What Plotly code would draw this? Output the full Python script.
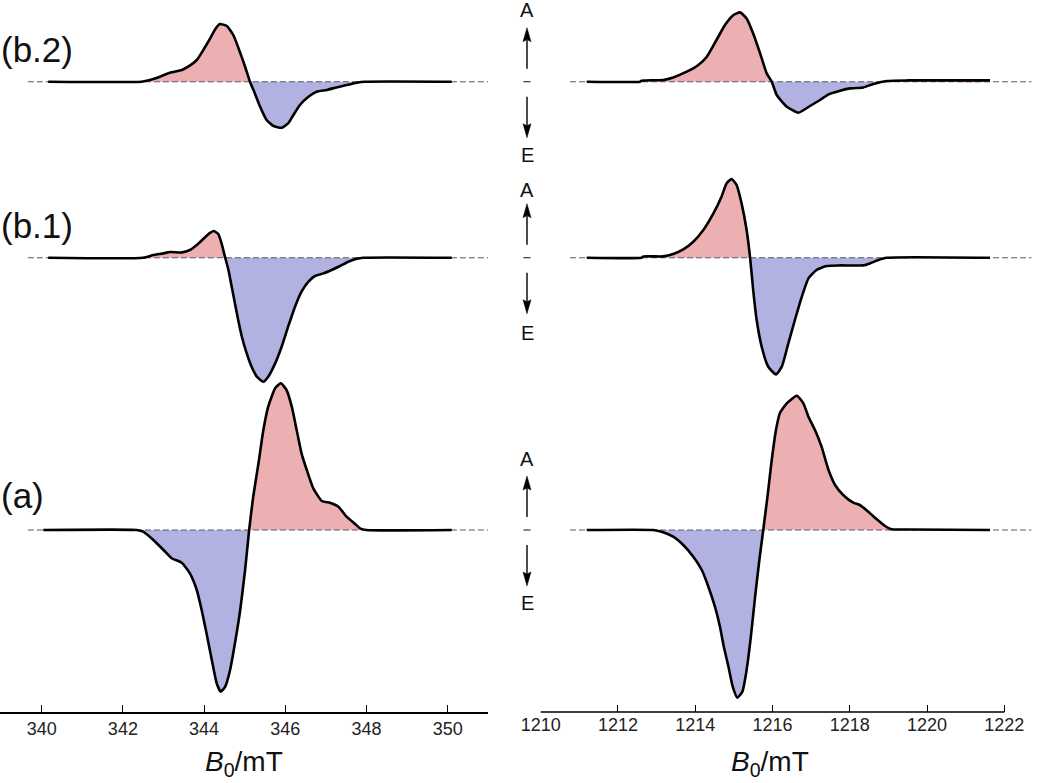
import plotly.graph_objects as go

# ---------------- data (field in mT, signal in arbitrary units) ----------------
# Left panel (around 345 mT)
left_a_field = [340.04, 342.34, 342.50, 342.75, 343.00, 343.20, 343.45, 343.65, 343.82, 343.94,
                344.06, 344.19, 344.31, 344.41, 344.52, 344.64, 344.76, 344.89, 345.01, 345.11,
                345.21, 345.34, 345.46, 345.58, 345.75, 345.89, 346.03, 346.16, 346.28, 346.40,
                346.53, 346.69, 346.90, 347.10, 347.31, 347.51, 347.72, 347.84, 348.00, 350.10]
left_a_signal = [0.0, 0.0, -0.017, -0.10, -0.20, -0.283, -0.327, -0.433, -0.60, -0.80,
                 -1.033, -1.30, -1.533, -1.617, -1.567, -1.40, -1.133, -0.80, -0.40, 0.0,
                 0.333, 0.667, 1.0, 1.233, 1.417, 1.467, 1.40, 1.233, 1.0, 0.767,
                 0.60, 0.417, 0.29, 0.273, 0.233, 0.133, 0.06, 0.017, 0.0, 0.0]

left_b1_field = [340.16, 342.50, 342.75, 343.00, 343.16, 343.45, 343.65, 343.82, 343.98, 344.13,
                 344.24, 344.35, 344.43, 344.52, 344.60, 344.68, 344.76, 344.84, 344.93, 345.05,
                 345.17, 345.30, 345.46, 345.58, 345.75, 345.91, 346.07, 346.24, 346.40, 346.57,
                 346.73, 346.94, 347.14, 347.35, 347.55, 347.76, 347.92, 350.10]
left_b1_signal = [0.0, 0.0, 0.027, 0.043, 0.057, 0.053, 0.077, 0.127, 0.187, 0.243,
                  0.267, 0.237, 0.143, 0.0, -0.123, -0.29, -0.457, -0.623, -0.79, -0.957,
                  -1.09, -1.19, -1.24, -1.19, -1.057, -0.89, -0.69, -0.49, -0.34, -0.24,
                  -0.183, -0.157, -0.123, -0.083, -0.04, -0.01, 0.0, 0.0]

left_b2_field = [340.16, 342.46, 342.67, 342.91, 343.16, 343.45, 343.61, 343.82, 343.98, 344.15,
                 344.27, 344.39, 344.56, 344.72, 344.88, 345.01, 345.13, 345.25, 345.38, 345.54,
                 345.71, 345.91, 346.07, 346.20, 346.36, 346.57, 346.77, 347.02, 347.26, 347.51,
                 347.76, 347.96, 350.10]
left_b2_signal = [0.0, 0.0, 0.017, 0.05, 0.09, 0.117, 0.15, 0.217, 0.317, 0.433,
                  0.523, 0.577, 0.557, 0.467, 0.30, 0.15, 0.0, -0.117, -0.25, -0.383,
                  -0.443, -0.46, -0.417, -0.333, -0.233, -0.15, -0.10, -0.083, -0.057, -0.033,
                  -0.01, 0.0, 0.0]

# Right panel (around 1215 mT)
right_a_field = [1211.19, 1212.91, 1213.13, 1213.43, 1213.69, 1213.95, 1214.17, 1214.34, 1214.51, 1214.64,
                 1214.74, 1214.86, 1214.97, 1215.09, 1215.22, 1215.33, 1215.44, 1215.55, 1215.66, 1215.76,
                 1215.87, 1215.98, 1216.09, 1216.19, 1216.37, 1216.63, 1216.80, 1216.93, 1217.10, 1217.27,
                 1217.45, 1217.62, 1217.83, 1218.09, 1218.26, 1218.48, 1218.70, 1218.91, 1219.08, 1219.52,
                 1221.63]
right_a_signal = [0.0, 0.0, -0.017, -0.067, -0.15, -0.267, -0.40, -0.567, -0.767, -0.967,
                  -1.167, -1.367, -1.567, -1.677, -1.617, -1.40, -1.067, -0.667, -0.30, 0.0,
                  0.333, 0.70, 1.0, 1.167, 1.267, 1.343, 1.267, 1.133, 1.0, 0.833,
                  0.60, 0.45, 0.35, 0.273, 0.25, 0.183, 0.107, 0.04, 0.007, 0.005,
                  0.0]

right_b1_field = [1211.19, 1212.61, 1212.66, 1213.17, 1213.43, 1213.69, 1213.95, 1214.21, 1214.47, 1214.68,
                  1214.81, 1214.94, 1215.07, 1215.20, 1215.33, 1215.42, 1215.50, 1215.59, 1215.72, 1215.89,
                  1216.09, 1216.24, 1216.41, 1216.58, 1216.76, 1216.93, 1217.14, 1217.40, 1217.75, 1218.35,
                  1218.52, 1218.74, 1218.95, 1221.63]
right_b1_signal = [0.0, 0.0, 0.013, 0.013, 0.037, 0.083, 0.16, 0.277, 0.443, 0.61,
                   0.743, 0.787, 0.727, 0.543, 0.277, 0.0, -0.323, -0.623, -0.89, -1.09,
                   -1.167, -1.09, -0.857, -0.623, -0.39, -0.207, -0.123, -0.083, -0.077, -0.077,
                   -0.057, -0.023, 0.0, 0.0]

right_b2_field = [1211.19, 1212.57, 1212.61, 1213.17, 1213.43, 1213.78, 1214.08, 1214.30, 1214.55, 1214.77,
                  1214.99, 1215.16, 1215.33, 1215.50, 1215.68, 1215.85, 1215.98, 1216.11, 1216.37, 1216.67,
                  1216.97, 1217.23, 1217.45, 1217.75, 1218.01, 1218.35, 1218.61, 1218.96, 1219.52, 1221.63]
right_b2_signal = [0.0, 0.0, 0.01, 0.017, 0.043, 0.10, 0.167, 0.25, 0.417, 0.567,
                   0.667, 0.693, 0.633, 0.483, 0.283, 0.083, 0.0, -0.133, -0.25, -0.31,
                   -0.243, -0.183, -0.127, -0.09, -0.067, -0.057, -0.023, 0.007, 0.013, 0.013]

left_ticks = [340, 342, 344, 346, 348, 350]
right_ticks = [1210, 1212, 1214, 1216, 1218, 1220, 1222]
panel_labels = ["(b.2)", "(b.1)", "(a)"]

# ---------------- layout constants ----------------
W, H = 1050, 783
OFFSETS = {"b.2": 4.483, "b.1": 2.723, "a": 0.0}
BASE_LEFT = (339.66, 351.0)
BASE_RIGHT = (1210.76, 1222.7)
POS_COLOR = "rgb(236,176,178)"
NEG_COLOR = "rgb(178,178,226)"
SMOOTH = 0.5

fig = go.Figure()


def split_sign(x, y):
    xs, ys = [x[0]], [y[0]]
    for i in range(1, len(x)):
        if y[i - 1] * y[i] < 0:
            t = y[i - 1] / (y[i - 1] - y[i])
            xs.append(x[i - 1] + t * (x[i] - x[i - 1]))
            ys.append(0.0)
        xs.append(x[i])
        ys.append(y[i])
    pos = [max(v, 0.0) for v in ys]
    neg = [min(v, 0.0) for v in ys]
    return xs, pos, neg


def add_spectrum(field, signal, off, xa, ya, base):
    xs, pos, neg = split_sign(field, signal)
    for part, col in ((pos, POS_COLOR), (neg, NEG_COLOR)):
        fig.add_trace(go.Scatter(
            x=xs + xs[::-1], y=[off + v for v in part] + [off] * len(xs),
            fill="toself", fillcolor=col, mode="lines",
            line=dict(width=0, shape="spline", smoothing=SMOOTH),
            xaxis=xa, yaxis=ya, hoverinfo="skip", showlegend=False))
    fig.add_trace(go.Scatter(
        x=list(base), y=[off, off], mode="lines",
        line=dict(color="rgb(90,90,100)", width=1.1, dash="6px,3px"),
        xaxis=xa, yaxis=ya, hoverinfo="skip", showlegend=False))
    fig.add_trace(go.Scatter(
        x=field, y=[off + v for v in signal], mode="lines",
        line=dict(color="black", width=2.6, shape="spline", smoothing=SMOOTH),
        xaxis=xa, yaxis=ya, cliponaxis=False, showlegend=False))


add_spectrum(left_b2_field, left_b2_signal, OFFSETS["b.2"], "x", "y", BASE_LEFT)
add_spectrum(left_b1_field, left_b1_signal, OFFSETS["b.1"], "x", "y", BASE_LEFT)
add_spectrum(left_a_field, left_a_signal, OFFSETS["a"], "x", "y", BASE_LEFT)
add_spectrum(right_b2_field, right_b2_signal, OFFSETS["b.2"], "x2", "y2", BASE_RIGHT)
add_spectrum(right_b1_field, right_b1_signal, OFFSETS["b.1"], "x2", "y2", BASE_RIGHT)
add_spectrum(right_a_field, right_a_signal, OFFSETS["a"], "x2", "y2", BASE_RIGHT)

FONT = "Liberation Sans"
y_dom = [71 / H, 1.0]
y_rng = [-1.82, 5.30]

axis_common = dict(showgrid=False, zeroline=False, ticks="inside", ticklen=7,
                   tickwidth=1.3, tickcolor="black", automargin=False,
                   tickfont=dict(family=FONT, size=18, color="#222"))

fig.update_layout(
    width=W, height=H, margin=dict(l=0, r=0, t=0, b=0, pad=0, autoexpand=False),
    paper_bgcolor="white", plot_bgcolor="white", showlegend=False,
    xaxis=dict(domain=[0, 488 / W], range=[338.973, 350.993], tickvals=left_ticks,
               showline=True, linecolor="black", linewidth=1.5, anchor="y", **axis_common),
    yaxis=dict(domain=y_dom, range=y_rng, visible=False, anchor="x", automargin=False),
    xaxis2=dict(domain=[539.93 / W, 1035.2 / W], range=[1209.98, 1222.8], tickvals=right_ticks,
                showline=False, anchor="y2", **axis_common),
    yaxis2=dict(domain=y_dom, range=y_rng, visible=False, anchor="x2", automargin=False),
)

shapes = [dict(type="line", xref="x2", yref="y2 domain", x0=1210, x1=1222, y0=0, y1=0,
               line=dict(color="black", width=1.5))]

annotations = []
# panel labels
for lab, ypx in zip(panel_labels, [50, 226, 495]):
    annotations.append(dict(text=lab, xref="paper", yref="paper", x=0, y=1 - ypx / H,
                            xanchor="left", yanchor="middle", showarrow=False, borderpad=0,
                            font=dict(family=FONT, size=35, color="#111")))
# axis titles
for xc in (243.5, 770):
    annotations.append(dict(text="<i>B</i><sub>0</sub>/mT", xref="paper", yref="paper",
                            x=xc / W, y=1 - 763 / H, xanchor="center", yanchor="middle",
                            showarrow=False, font=dict(family=FONT, size=28, color="#111")))

# A / E indicators
XC = 527
for a_y, base_y, e_y in ((10, 81.7, 155), (190, 257.7, 333), (459, 530, 603)):
    annotations.append(dict(text="A", xref="paper", yref="paper", x=XC / W, y=1 - a_y / H,
                            xanchor="center", yanchor="middle", showarrow=False, borderpad=0,
                            font=dict(family=FONT, size=20, color="#111")))
    annotations.append(dict(text="E", xref="paper", yref="paper", x=XC / W, y=1 - e_y / H,
                            xanchor="center", yanchor="middle", showarrow=False, borderpad=0,
                            font=dict(family=FONT, size=20, color="#111")))
    up_tip, up_tail = base_y - 54, base_y - 13
    dn_tail, dn_tip = base_y + 15, base_y + 56
    hl, hw = 14, 4
    # shafts
    shapes.append(dict(type="line", xref="paper", yref="paper",
                       x0=XC / W, x1=XC / W, y0=1 - (up_tip + hl - 2) / H, y1=1 - up_tail / H,
                       line=dict(color="black", width=1.4)))
    shapes.append(dict(type="line", xref="paper", yref="paper",
                       x0=XC / W, x1=XC / W, y0=1 - dn_tail / H, y1=1 - (dn_tip - hl + 2) / H,
                       line=dict(color="black", width=1.4)))
    # heads
    for tip, back in ((up_tip, up_tip + hl), (dn_tip, dn_tip - hl)):
        path = "M {:.5f},{:.5f} L {:.5f},{:.5f} L {:.5f},{:.5f} L {:.5f},{:.5f} Z".format(
            XC / W, 1 - tip / H,
            (XC - hw) / W, 1 - back / H,
            XC / W, 1 - (back + (tip - back) * 0.15) / H,
            (XC + hw) / W, 1 - back / H)
        shapes.append(dict(type="path", xref="paper", yref="paper", path=path,
                           fillcolor="black", line=dict(color="black", width=0.5)))
    # small centre dash
    shapes.append(dict(type="line", xref="paper", yref="paper",
                       x0=(XC - 3.5) / W, x1=(XC + 3.5) / W, y0=1 - base_y / H, y1=1 - base_y / H,
                       line=dict(color="#333", width=1.2)))

fig.update_layout(shapes=shapes, annotations=annotations)
fig.write_html("out.html", config={"displayModeBar": False},
               post_script="document.body.style.margin='0';document.body.style.overflow='hidden';")
